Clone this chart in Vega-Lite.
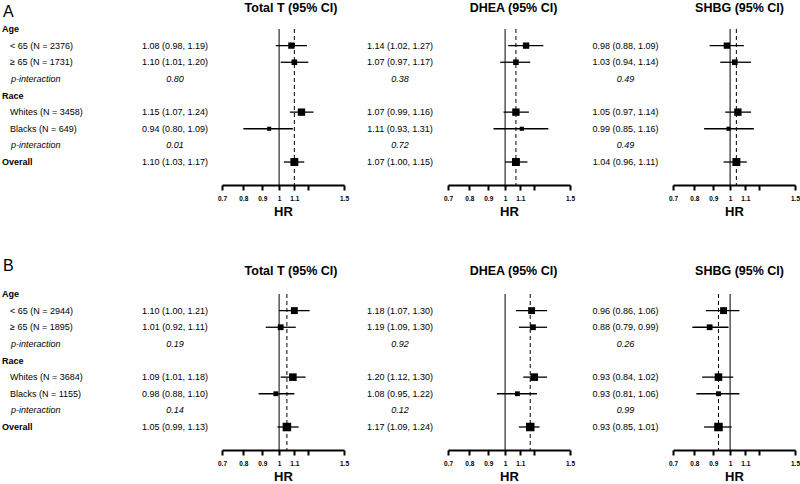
{
"$schema":"https://vega.github.io/schema/vega-lite/v6.json",
"padding":0,
"background":"white",
"datasets":{
"labels":[
{"panel":"A","row":1,"label":"Age","kind":"head"},
{"panel":"A","row":2,"label":"<  65 (N = 2376)","kind":"item"},
{"panel":"A","row":3,"label":"≥  65 (N = 1731)","kind":"item"},
{"panel":"A","row":4,"label":"p-interaction","kind":"pint"},
{"panel":"A","row":5,"label":"Race","kind":"head"},
{"panel":"A","row":6,"label":"Whites (N = 3458)","kind":"item"},
{"panel":"A","row":7,"label":"Blacks (N = 649)","kind":"item"},
{"panel":"A","row":8,"label":"p-interaction","kind":"pint"},
{"panel":"A","row":9,"label":"Overall","kind":"head"},
{"panel":"B","row":1,"label":"Age","kind":"head"},
{"panel":"B","row":2,"label":"<  65 (N = 2944)","kind":"item"},
{"panel":"B","row":3,"label":"≥  65 (N = 1895)","kind":"item"},
{"panel":"B","row":4,"label":"p-interaction","kind":"pint"},
{"panel":"B","row":5,"label":"Race","kind":"head"},
{"panel":"B","row":6,"label":"Whites (N = 3684)","kind":"item"},
{"panel":"B","row":7,"label":"Blacks (N = 1155)","kind":"item"},
{"panel":"B","row":8,"label":"p-interaction","kind":"pint"},
{"panel":"B","row":9,"label":"Overall","kind":"head"}
],
"est":[
{"panel":"A","hormone":"Total T","row":2,"hr":1.08,"lo":0.98,"hi":1.19,"n":2376,"text":"1.08 (0.98, 1.19)","kind":"est"},
{"panel":"A","hormone":"Total T","row":3,"hr":1.10,"lo":1.01,"hi":1.20,"n":1731,"text":"1.10 (1.01, 1.20)","kind":"est"},
{"panel":"A","hormone":"Total T","row":4,"text":"0.80","kind":"p"},
{"panel":"A","hormone":"Total T","row":6,"hr":1.15,"lo":1.07,"hi":1.24,"n":3458,"text":"1.15 (1.07, 1.24)","kind":"est"},
{"panel":"A","hormone":"Total T","row":7,"hr":0.94,"lo":0.80,"hi":1.09,"n":649,"text":"0.94 (0.80, 1.09)","kind":"est"},
{"panel":"A","hormone":"Total T","row":8,"text":"0.01","kind":"p"},
{"panel":"A","hormone":"Total T","row":9,"hr":1.10,"lo":1.03,"hi":1.17,"n":4107,"text":"1.10 (1.03, 1.17)","kind":"est"},
{"panel":"A","hormone":"DHEA","row":2,"hr":1.14,"lo":1.02,"hi":1.27,"n":2376,"text":"1.14 (1.02, 1.27)","kind":"est"},
{"panel":"A","hormone":"DHEA","row":3,"hr":1.07,"lo":0.97,"hi":1.17,"n":1731,"text":"1.07 (0.97, 1.17)","kind":"est"},
{"panel":"A","hormone":"DHEA","row":4,"text":"0.38","kind":"p"},
{"panel":"A","hormone":"DHEA","row":6,"hr":1.07,"lo":0.99,"hi":1.16,"n":3458,"text":"1.07 (0.99, 1.16)","kind":"est"},
{"panel":"A","hormone":"DHEA","row":7,"hr":1.11,"lo":0.93,"hi":1.31,"n":649,"text":"1.11 (0.93, 1.31)","kind":"est"},
{"panel":"A","hormone":"DHEA","row":8,"text":"0.72","kind":"p"},
{"panel":"A","hormone":"DHEA","row":9,"hr":1.07,"lo":1.00,"hi":1.15,"n":4107,"text":"1.07 (1.00, 1.15)","kind":"est"},
{"panel":"A","hormone":"SHBG","row":2,"hr":0.98,"lo":0.88,"hi":1.09,"n":2376,"text":"0.98 (0.88, 1.09)","kind":"est"},
{"panel":"A","hormone":"SHBG","row":3,"hr":1.03,"lo":0.94,"hi":1.14,"n":1731,"text":"1.03 (0.94, 1.14)","kind":"est"},
{"panel":"A","hormone":"SHBG","row":4,"text":"0.49","kind":"p"},
{"panel":"A","hormone":"SHBG","row":6,"hr":1.05,"lo":0.97,"hi":1.14,"n":3458,"text":"1.05 (0.97, 1.14)","kind":"est"},
{"panel":"A","hormone":"SHBG","row":7,"hr":0.99,"lo":0.85,"hi":1.16,"n":649,"text":"0.99 (0.85, 1.16)","kind":"est"},
{"panel":"A","hormone":"SHBG","row":8,"text":"0.49","kind":"p"},
{"panel":"A","hormone":"SHBG","row":9,"hr":1.04,"lo":0.96,"hi":1.11,"n":4107,"text":"1.04 (0.96, 1.11)","kind":"est"},
{"panel":"B","hormone":"Total T","row":2,"hr":1.10,"lo":1.00,"hi":1.21,"n":2944,"text":"1.10 (1.00, 1.21)","kind":"est"},
{"panel":"B","hormone":"Total T","row":3,"hr":1.01,"lo":0.92,"hi":1.11,"n":1895,"text":"1.01 (0.92, 1.11)","kind":"est"},
{"panel":"B","hormone":"Total T","row":4,"text":"0.19","kind":"p"},
{"panel":"B","hormone":"Total T","row":6,"hr":1.09,"lo":1.01,"hi":1.18,"n":3684,"text":"1.09 (1.01, 1.18)","kind":"est"},
{"panel":"B","hormone":"Total T","row":7,"hr":0.98,"lo":0.88,"hi":1.10,"n":1155,"text":"0.98 (0.88, 1.10)","kind":"est"},
{"panel":"B","hormone":"Total T","row":8,"text":"0.14","kind":"p"},
{"panel":"B","hormone":"Total T","row":9,"hr":1.05,"lo":0.99,"hi":1.13,"n":4839,"text":"1.05 (0.99, 1.13)","kind":"est"},
{"panel":"B","hormone":"DHEA","row":2,"hr":1.18,"lo":1.07,"hi":1.30,"n":2944,"text":"1.18 (1.07, 1.30)","kind":"est"},
{"panel":"B","hormone":"DHEA","row":3,"hr":1.19,"lo":1.09,"hi":1.30,"n":1895,"text":"1.19 (1.09, 1.30)","kind":"est"},
{"panel":"B","hormone":"DHEA","row":4,"text":"0.92","kind":"p"},
{"panel":"B","hormone":"DHEA","row":6,"hr":1.20,"lo":1.12,"hi":1.30,"n":3684,"text":"1.20 (1.12, 1.30)","kind":"est"},
{"panel":"B","hormone":"DHEA","row":7,"hr":1.08,"lo":0.95,"hi":1.22,"n":1155,"text":"1.08 (0.95, 1.22)","kind":"est"},
{"panel":"B","hormone":"DHEA","row":8,"text":"0.12","kind":"p"},
{"panel":"B","hormone":"DHEA","row":9,"hr":1.17,"lo":1.09,"hi":1.24,"n":4839,"text":"1.17 (1.09, 1.24)","kind":"est"},
{"panel":"B","hormone":"SHBG","row":2,"hr":0.96,"lo":0.86,"hi":1.06,"n":2944,"text":"0.96 (0.86, 1.06)","kind":"est"},
{"panel":"B","hormone":"SHBG","row":3,"hr":0.88,"lo":0.79,"hi":0.99,"n":1895,"text":"0.88 (0.79, 0.99)","kind":"est"},
{"panel":"B","hormone":"SHBG","row":4,"text":"0.26","kind":"p"},
{"panel":"B","hormone":"SHBG","row":6,"hr":0.93,"lo":0.84,"hi":1.02,"n":3684,"text":"0.93 (0.84, 1.02)","kind":"est"},
{"panel":"B","hormone":"SHBG","row":7,"hr":0.93,"lo":0.81,"hi":1.06,"n":1155,"text":"0.93 (0.81, 1.06)","kind":"est"},
{"panel":"B","hormone":"SHBG","row":8,"text":"0.99","kind":"p"},
{"panel":"B","hormone":"SHBG","row":9,"hr":0.93,"lo":0.85,"hi":1.01,"n":4839,"text":"0.93 (0.85, 1.01)","kind":"est"}
]
},
"vconcat":[
{"spacing":0,"bounds":"flush","hconcat":[
 {"width":128,"height":185,"data":{"name":"labels"},"layer":[
  {"data":{"values":[{"t":"A"}]},"mark":{"type":"text","fontSize":16,"align":"left","dx":3},"encoding":{"text":{"field":"t"},"x":{"value":0},"y":{"datum":0,"type":"quantitative","scale":{"domain":[-0.744,10.383],"reverse":true,"nice":false,"zero":false},"axis":null}}},
  {"transform":[{"filter":"datum.panel=='A' && datum.kind=='head'"}],"mark":{"type":"text","fontWeight":"bold","align":"left","dx":2},"encoding":{"text":{"field":"label"},"x":{"value":0},"y":{"field":"row","type":"quantitative","scale":{"domain":[-0.744,10.383],"reverse":true,"nice":false,"zero":false},"axis":null}}},
  {"transform":[{"filter":"datum.panel=='A' && datum.kind=='item'"}],"mark":{"type":"text","align":"left","dx":10},"encoding":{"text":{"field":"label"},"x":{"value":0},"y":{"field":"row","type":"quantitative","scale":{"domain":[-0.744,10.383],"reverse":true,"nice":false,"zero":false},"axis":null}}},
  {"transform":[{"filter":"datum.panel=='A' && datum.kind=='pint'"}],"mark":{"type":"text","align":"left","fontStyle":"italic","dx":11},"encoding":{"text":{"field":"label"},"x":{"value":0},"y":{"field":"row","type":"quantitative","scale":{"domain":[-0.744,10.383],"reverse":true,"nice":false,"zero":false},"axis":null}}}
 ]},
 {"width":94,"height":185,"data":{"name":"est"},"layer":[
  {"transform":[{"filter":"datum.panel=='A' && datum.hormone=='Total T' && datum.kind=='est'"}],"mark":{"type":"text"},"encoding":{"text":{"field":"text"},"y":{"field":"row","type":"quantitative","scale":{"domain":[-0.744,10.383],"reverse":true,"nice":false,"zero":false},"axis":null}}},
  {"transform":[{"filter":"datum.panel=='A' && datum.hormone=='Total T' && datum.kind=='p'"}],"mark":{"type":"text","fontStyle":"italic"},"encoding":{"text":{"field":"text"},"y":{"field":"row","type":"quantitative","scale":{"domain":[-0.744,10.383],"reverse":true,"nice":false,"zero":false},"axis":null}}}
 ]},
 {"width":122,"height":185,"data":{"name":"est"},"layer":[
  {"data":{"values":[{"t":"Total T (95% CI)"}]},"mark":{"type":"text","fontWeight":"bold","fontSize":12.5,"dx":8},"encoding":{"text":{"field":"t"},"y":{"datum":-0.26,"type":"quantitative","scale":{"domain":[-0.744,10.383],"reverse":true,"nice":false,"zero":false},"axis":null}}},
  {"data":{"values":[{}]},"mark":{"type":"rule","color":"black","strokeWidth":1},"encoding":{"x":{"datum":1,"type":"quantitative","scale":{"type":"log","domain":[0.7,1.5],"nice":false},"axis":{"title":"HR","values":[0.7,0.8,0.9,1,1.1,1.2,1.5],"labelExpr":"datum.value==1.2?'':format(datum.value,'~g')","grid":false}},"y":{"datum":1,"type":"quantitative","scale":{"domain":[-0.744,10.383],"reverse":true,"nice":false,"zero":false},"axis":null},"y2":{"datum":10.383}}},
  {"transform":[{"filter":"datum.panel=='A' && datum.hormone=='Total T' && datum.row==9"}],"mark":{"type":"rule","color":"black","strokeWidth":1,"strokeDash":[4,3]},"encoding":{"x":{"field":"hr","type":"quantitative"},"y":{"datum":1,"type":"quantitative"},"y2":{"datum":10.383}}},
  {"transform":[{"filter":"datum.panel=='A' && datum.hormone=='Total T' && datum.kind=='est'"}],"mark":{"type":"rule","color":"black","strokeWidth":1.3},"encoding":{"x":{"field":"lo","type":"quantitative"},"x2":{"field":"hi"},"y":{"field":"row","type":"quantitative"}}},
  {"transform":[{"filter":"datum.panel=='A' && datum.hormone=='Total T' && datum.kind=='est'"}],"mark":{"type":"square","filled":true,"color":"black","opacity":1},"encoding":{"x":{"field":"hr","type":"quantitative"},"y":{"field":"row","type":"quantitative"},"size":{"field":"n","type":"quantitative","scale":{"domain":[0,5000],"range":[8,75],"zero":false},"legend":null}}}
 ]},
 {"width":104,"height":185,"data":{"name":"est"},"layer":[
  {"transform":[{"filter":"datum.panel=='A' && datum.hormone=='DHEA' && datum.kind=='est'"}],"mark":{"type":"text","dx":4},"encoding":{"text":{"field":"text"},"y":{"field":"row","type":"quantitative","scale":{"domain":[-0.744,10.383],"reverse":true,"nice":false,"zero":false},"axis":null}}},
  {"transform":[{"filter":"datum.panel=='A' && datum.hormone=='DHEA' && datum.kind=='p'"}],"mark":{"type":"text","fontStyle":"italic","dx":4},"encoding":{"text":{"field":"text"},"y":{"field":"row","type":"quantitative","scale":{"domain":[-0.744,10.383],"reverse":true,"nice":false,"zero":false},"axis":null}}}
 ]},
 {"width":122,"height":185,"data":{"name":"est"},"layer":[
  {"data":{"values":[{"t":"DHEA (95% CI)"}]},"mark":{"type":"text","fontWeight":"bold","fontSize":12.5,"dx":4.5},"encoding":{"text":{"field":"t"},"y":{"datum":-0.26,"type":"quantitative","scale":{"domain":[-0.744,10.383],"reverse":true,"nice":false,"zero":false},"axis":null}}},
  {"data":{"values":[{}]},"mark":{"type":"rule","color":"black","strokeWidth":1},"encoding":{"x":{"datum":1,"type":"quantitative","scale":{"type":"log","domain":[0.7,1.5],"nice":false},"axis":{"title":"HR","values":[0.7,0.8,0.9,1,1.1,1.2,1.5],"labelExpr":"datum.value==1.2?'':format(datum.value,'~g')","grid":false}},"y":{"datum":1,"type":"quantitative","scale":{"domain":[-0.744,10.383],"reverse":true,"nice":false,"zero":false},"axis":null},"y2":{"datum":10.383}}},
  {"transform":[{"filter":"datum.panel=='A' && datum.hormone=='DHEA' && datum.row==9"}],"mark":{"type":"rule","color":"black","strokeWidth":1,"strokeDash":[4,3]},"encoding":{"x":{"field":"hr","type":"quantitative"},"y":{"datum":1,"type":"quantitative"},"y2":{"datum":10.383}}},
  {"transform":[{"filter":"datum.panel=='A' && datum.hormone=='DHEA' && datum.kind=='est'"}],"mark":{"type":"rule","color":"black","strokeWidth":1.3},"encoding":{"x":{"field":"lo","type":"quantitative"},"x2":{"field":"hi"},"y":{"field":"row","type":"quantitative"}}},
  {"transform":[{"filter":"datum.panel=='A' && datum.hormone=='DHEA' && datum.kind=='est'"}],"mark":{"type":"square","filled":true,"color":"black","opacity":1},"encoding":{"x":{"field":"hr","type":"quantitative"},"y":{"field":"row","type":"quantitative"},"size":{"field":"n","type":"quantitative","scale":{"domain":[0,5000],"range":[8,75],"zero":false},"legend":null}}}
 ]},
 {"width":103,"height":185,"data":{"name":"est"},"layer":[
  {"transform":[{"filter":"datum.panel=='A' && datum.hormone=='SHBG' && datum.kind=='est'"}],"mark":{"type":"text","dx":4},"encoding":{"text":{"field":"text"},"y":{"field":"row","type":"quantitative","scale":{"domain":[-0.744,10.383],"reverse":true,"nice":false,"zero":false},"axis":null}}},
  {"transform":[{"filter":"datum.panel=='A' && datum.hormone=='SHBG' && datum.kind=='p'"}],"mark":{"type":"text","fontStyle":"italic","dx":4},"encoding":{"text":{"field":"text"},"y":{"field":"row","type":"quantitative","scale":{"domain":[-0.744,10.383],"reverse":true,"nice":false,"zero":false},"axis":null}}}
 ]},
 {"width":122,"height":185,"data":{"name":"est"},"layer":[
  {"data":{"values":[{"t":"SHBG (95% CI)"}]},"mark":{"type":"text","fontWeight":"bold","fontSize":12.5,"dx":5.5},"encoding":{"text":{"field":"t"},"y":{"datum":-0.26,"type":"quantitative","scale":{"domain":[-0.744,10.383],"reverse":true,"nice":false,"zero":false},"axis":null}}},
  {"data":{"values":[{}]},"mark":{"type":"rule","color":"black","strokeWidth":1},"encoding":{"x":{"datum":1,"type":"quantitative","scale":{"type":"log","domain":[0.7,1.5],"nice":false},"axis":{"title":"HR","values":[0.7,0.8,0.9,1,1.1,1.2,1.5],"labelExpr":"datum.value==1.2?'':format(datum.value,'~g')","grid":false}},"y":{"datum":1,"type":"quantitative","scale":{"domain":[-0.744,10.383],"reverse":true,"nice":false,"zero":false},"axis":null},"y2":{"datum":10.383}}},
  {"transform":[{"filter":"datum.panel=='A' && datum.hormone=='SHBG' && datum.row==9"}],"mark":{"type":"rule","color":"black","strokeWidth":1,"strokeDash":[4,3]},"encoding":{"x":{"field":"hr","type":"quantitative"},"y":{"datum":1,"type":"quantitative"},"y2":{"datum":10.383}}},
  {"transform":[{"filter":"datum.panel=='A' && datum.hormone=='SHBG' && datum.kind=='est'"}],"mark":{"type":"rule","color":"black","strokeWidth":1.3},"encoding":{"x":{"field":"lo","type":"quantitative"},"x2":{"field":"hi"},"y":{"field":"row","type":"quantitative"}}},
  {"transform":[{"filter":"datum.panel=='A' && datum.hormone=='SHBG' && datum.kind=='est'"}],"mark":{"type":"square","filled":true,"color":"black","opacity":1},"encoding":{"x":{"field":"hr","type":"quantitative"},"y":{"field":"row","type":"quantitative"},"size":{"field":"n","type":"quantitative","scale":{"domain":[0,5000],"range":[8,75],"zero":false},"legend":null}}}
 ]}
]},
{"spacing":0,"bounds":"flush","hconcat":[
 {"width":128,"height":185,"data":{"name":"labels"},"layer":[
  {"data":{"values":[{"t":"B"}]},"mark":{"type":"text","fontSize":16,"align":"left","dx":3},"encoding":{"text":{"field":"t"},"x":{"value":0},"y":{"datum":-0.68,"type":"quantitative","scale":{"domain":[-0.744,10.383],"reverse":true,"nice":false,"zero":false},"axis":null}}},
  {"transform":[{"filter":"datum.panel=='B' && datum.kind=='head'"}],"mark":{"type":"text","fontWeight":"bold","align":"left","dx":2},"encoding":{"text":{"field":"label"},"x":{"value":0},"y":{"field":"row","type":"quantitative","scale":{"domain":[-0.744,10.383],"reverse":true,"nice":false,"zero":false},"axis":null}}},
  {"transform":[{"filter":"datum.panel=='B' && datum.kind=='item'"}],"mark":{"type":"text","align":"left","dx":10},"encoding":{"text":{"field":"label"},"x":{"value":0},"y":{"field":"row","type":"quantitative","scale":{"domain":[-0.744,10.383],"reverse":true,"nice":false,"zero":false},"axis":null}}},
  {"transform":[{"filter":"datum.panel=='B' && datum.kind=='pint'"}],"mark":{"type":"text","align":"left","fontStyle":"italic","dx":11},"encoding":{"text":{"field":"label"},"x":{"value":0},"y":{"field":"row","type":"quantitative","scale":{"domain":[-0.744,10.383],"reverse":true,"nice":false,"zero":false},"axis":null}}}
 ]},
 {"width":94,"height":185,"data":{"name":"est"},"layer":[
  {"transform":[{"filter":"datum.panel=='B' && datum.hormone=='Total T' && datum.kind=='est'"}],"mark":{"type":"text"},"encoding":{"text":{"field":"text"},"y":{"field":"row","type":"quantitative","scale":{"domain":[-0.744,10.383],"reverse":true,"nice":false,"zero":false},"axis":null}}},
  {"transform":[{"filter":"datum.panel=='B' && datum.hormone=='Total T' && datum.kind=='p'"}],"mark":{"type":"text","fontStyle":"italic"},"encoding":{"text":{"field":"text"},"y":{"field":"row","type":"quantitative","scale":{"domain":[-0.744,10.383],"reverse":true,"nice":false,"zero":false},"axis":null}}}
 ]},
 {"width":122,"height":185,"data":{"name":"est"},"layer":[
  {"data":{"values":[{"t":"Total T (95% CI)"}]},"mark":{"type":"text","fontWeight":"bold","fontSize":12.5,"dx":8},"encoding":{"text":{"field":"t"},"y":{"datum":-0.38,"type":"quantitative","scale":{"domain":[-0.744,10.383],"reverse":true,"nice":false,"zero":false},"axis":null}}},
  {"data":{"values":[{}]},"mark":{"type":"rule","color":"black","strokeWidth":1},"encoding":{"x":{"datum":1,"type":"quantitative","scale":{"type":"log","domain":[0.7,1.5],"nice":false},"axis":{"title":"HR","values":[0.7,0.8,0.9,1,1.1,1.2,1.5],"labelExpr":"datum.value==1.2?'':format(datum.value,'~g')","grid":false}},"y":{"datum":1,"type":"quantitative","scale":{"domain":[-0.744,10.383],"reverse":true,"nice":false,"zero":false},"axis":null},"y2":{"datum":10.383}}},
  {"transform":[{"filter":"datum.panel=='B' && datum.hormone=='Total T' && datum.row==9"}],"mark":{"type":"rule","color":"black","strokeWidth":1,"strokeDash":[4,3]},"encoding":{"x":{"field":"hr","type":"quantitative"},"y":{"datum":1,"type":"quantitative"},"y2":{"datum":10.383}}},
  {"transform":[{"filter":"datum.panel=='B' && datum.hormone=='Total T' && datum.kind=='est'"}],"mark":{"type":"rule","color":"black","strokeWidth":1.3},"encoding":{"x":{"field":"lo","type":"quantitative"},"x2":{"field":"hi"},"y":{"field":"row","type":"quantitative"}}},
  {"transform":[{"filter":"datum.panel=='B' && datum.hormone=='Total T' && datum.kind=='est'"}],"mark":{"type":"square","filled":true,"color":"black","opacity":1},"encoding":{"x":{"field":"hr","type":"quantitative"},"y":{"field":"row","type":"quantitative"},"size":{"field":"n","type":"quantitative","scale":{"domain":[0,5000],"range":[8,75],"zero":false},"legend":null}}}
 ]},
 {"width":104,"height":185,"data":{"name":"est"},"layer":[
  {"transform":[{"filter":"datum.panel=='B' && datum.hormone=='DHEA' && datum.kind=='est'"}],"mark":{"type":"text","dx":4},"encoding":{"text":{"field":"text"},"y":{"field":"row","type":"quantitative","scale":{"domain":[-0.744,10.383],"reverse":true,"nice":false,"zero":false},"axis":null}}},
  {"transform":[{"filter":"datum.panel=='B' && datum.hormone=='DHEA' && datum.kind=='p'"}],"mark":{"type":"text","fontStyle":"italic","dx":4},"encoding":{"text":{"field":"text"},"y":{"field":"row","type":"quantitative","scale":{"domain":[-0.744,10.383],"reverse":true,"nice":false,"zero":false},"axis":null}}}
 ]},
 {"width":122,"height":185,"data":{"name":"est"},"layer":[
  {"data":{"values":[{"t":"DHEA (95% CI)"}]},"mark":{"type":"text","fontWeight":"bold","fontSize":12.5,"dx":4.5},"encoding":{"text":{"field":"t"},"y":{"datum":-0.38,"type":"quantitative","scale":{"domain":[-0.744,10.383],"reverse":true,"nice":false,"zero":false},"axis":null}}},
  {"data":{"values":[{}]},"mark":{"type":"rule","color":"black","strokeWidth":1},"encoding":{"x":{"datum":1,"type":"quantitative","scale":{"type":"log","domain":[0.7,1.5],"nice":false},"axis":{"title":"HR","values":[0.7,0.8,0.9,1,1.1,1.2,1.5],"labelExpr":"datum.value==1.2?'':format(datum.value,'~g')","grid":false}},"y":{"datum":1,"type":"quantitative","scale":{"domain":[-0.744,10.383],"reverse":true,"nice":false,"zero":false},"axis":null},"y2":{"datum":10.383}}},
  {"transform":[{"filter":"datum.panel=='B' && datum.hormone=='DHEA' && datum.row==9"}],"mark":{"type":"rule","color":"black","strokeWidth":1,"strokeDash":[4,3]},"encoding":{"x":{"field":"hr","type":"quantitative"},"y":{"datum":1,"type":"quantitative"},"y2":{"datum":10.383}}},
  {"transform":[{"filter":"datum.panel=='B' && datum.hormone=='DHEA' && datum.kind=='est'"}],"mark":{"type":"rule","color":"black","strokeWidth":1.3},"encoding":{"x":{"field":"lo","type":"quantitative"},"x2":{"field":"hi"},"y":{"field":"row","type":"quantitative"}}},
  {"transform":[{"filter":"datum.panel=='B' && datum.hormone=='DHEA' && datum.kind=='est'"}],"mark":{"type":"square","filled":true,"color":"black","opacity":1},"encoding":{"x":{"field":"hr","type":"quantitative"},"y":{"field":"row","type":"quantitative"},"size":{"field":"n","type":"quantitative","scale":{"domain":[0,5000],"range":[8,75],"zero":false},"legend":null}}}
 ]},
 {"width":103,"height":185,"data":{"name":"est"},"layer":[
  {"transform":[{"filter":"datum.panel=='B' && datum.hormone=='SHBG' && datum.kind=='est'"}],"mark":{"type":"text","dx":4},"encoding":{"text":{"field":"text"},"y":{"field":"row","type":"quantitative","scale":{"domain":[-0.744,10.383],"reverse":true,"nice":false,"zero":false},"axis":null}}},
  {"transform":[{"filter":"datum.panel=='B' && datum.hormone=='SHBG' && datum.kind=='p'"}],"mark":{"type":"text","fontStyle":"italic","dx":4},"encoding":{"text":{"field":"text"},"y":{"field":"row","type":"quantitative","scale":{"domain":[-0.744,10.383],"reverse":true,"nice":false,"zero":false},"axis":null}}}
 ]},
 {"width":122,"height":185,"data":{"name":"est"},"layer":[
  {"data":{"values":[{"t":"SHBG (95% CI)"}]},"mark":{"type":"text","fontWeight":"bold","fontSize":12.5,"dx":5.5},"encoding":{"text":{"field":"t"},"y":{"datum":-0.38,"type":"quantitative","scale":{"domain":[-0.744,10.383],"reverse":true,"nice":false,"zero":false},"axis":null}}},
  {"data":{"values":[{}]},"mark":{"type":"rule","color":"black","strokeWidth":1},"encoding":{"x":{"datum":1,"type":"quantitative","scale":{"type":"log","domain":[0.7,1.5],"nice":false},"axis":{"title":"HR","values":[0.7,0.8,0.9,1,1.1,1.2,1.5],"labelExpr":"datum.value==1.2?'':format(datum.value,'~g')","grid":false}},"y":{"datum":1,"type":"quantitative","scale":{"domain":[-0.744,10.383],"reverse":true,"nice":false,"zero":false},"axis":null},"y2":{"datum":10.383}}},
  {"transform":[{"filter":"datum.panel=='B' && datum.hormone=='SHBG' && datum.row==9"}],"mark":{"type":"rule","color":"black","strokeWidth":1,"strokeDash":[4,3]},"encoding":{"x":{"field":"hr","type":"quantitative"},"y":{"datum":1,"type":"quantitative"},"y2":{"datum":10.383}}},
  {"transform":[{"filter":"datum.panel=='B' && datum.hormone=='SHBG' && datum.kind=='est'"}],"mark":{"type":"rule","color":"black","strokeWidth":1.3},"encoding":{"x":{"field":"lo","type":"quantitative"},"x2":{"field":"hi"},"y":{"field":"row","type":"quantitative"}}},
  {"transform":[{"filter":"datum.panel=='B' && datum.hormone=='SHBG' && datum.kind=='est'"}],"mark":{"type":"square","filled":true,"color":"black","opacity":1},"encoding":{"x":{"field":"hr","type":"quantitative"},"y":{"field":"row","type":"quantitative"},"size":{"field":"n","type":"quantitative","scale":{"domain":[0,5000],"range":[8,75],"zero":false},"legend":null}}}
 ]}
]}
],
"spacing":39,
"config":{
 "font":"Liberation Sans",
 "view":{"stroke":null},
 "text":{"fontSize":9,"baseline":"middle","color":"black"},
 "axisX":{"domainColor":"black","domainWidth":2,"tickColor":"black","tickWidth":2,"tickSize":5,"labelFontSize":6.5,"labelFontWeight":"bold","labelColor":"black","labelPadding":5,"labelFlush":false,"labelOverlap":false,"titleFontSize":13,"titleFontWeight":"bold","titleColor":"black","titlePadding":4,"labelFont":"Liberation Sans","titleFont":"Liberation Sans"}
}
}
